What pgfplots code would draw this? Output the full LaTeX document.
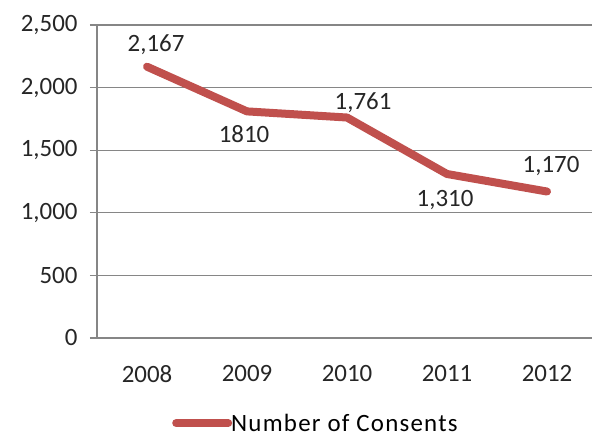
\documentclass[border=0pt]{standalone}
\usepackage{fontspec}
\setmainfont{Carlito}
\usepackage{pgfplots}
\pgfplotsset{compat=1.18}
\definecolor{linered}{RGB}{192,80,77}
\definecolor{gridgray}{RGB}{134,134,134}
\newcommand\cfont{\fontsize{25}{29}\selectfont}
\begin{document}
\begin{tikzpicture}
\useasboundingbox (0bp,0bp) rectangle (592bp,439bp);
\begin{axis}[
  at={(97bp,101bp)}, anchor=south west,
  scale only axis, width=495bp, height=313bp,
  xmin=-0.5, xmax=4.45, ymin=0, ymax=2500,
  axis x line*=bottom, axis y line*=left,
  axis line style={gridgray, line width=1.2bp, -},
  ytick={0,500,1000,1500,2000,2500},
  ymajorgrids, major grid style={gridgray, line width=1.2bp},
  xtick={0,1,2,3,4}, xticklabels={2008,2009,2010,2011,2012},
  x tick style={draw=none},
  extra x ticks={-0.5,0.5,1.5,2.5,3.5},
  extra x tick labels={},
  extra x tick style={tick style={draw=gridgray, line width=1.2bp}, major tick length=7bp, tick align=outside, xmajorgrids=false},
  y tick style={draw=gridgray, line width=1.2bp},
  major tick length=7bp, tick align=outside,
  /pgf/number format/assume math mode=true,
  /pgf/number format/1000 sep={,},
  tick label style={font=\cfont, text=black!85},
  xticklabel style={yshift=-17bp},
  yticklabel style={xshift=-9bp},
  legend style={at={(0.1515,-0.272)}, anchor=west, draw=none, font=\cfont\addfontfeature{LetterSpace=5}, inner sep=0pt,
    /tikz/every even column/.append style={column sep=0pt}},
  legend cell align=left,
  clip=false,
]
\addplot[linered, line width=8bp, line cap=round, line join=round,
  legend image code/.code={\draw[linered, line width=8bp, line cap=round] (0bp,0bp) -- (52bp,0bp);}]
  coordinates {(0,2167) (1,1810) (2,1761) (3,1310) (4,1170)};
\addlegendentry{\hspace{-3bp}Number of Consents}
\addplot[draw=none, mark=none, forget plot, nodes near coords, point meta=explicit symbolic,
  nodes near coords style={anchor=center, xshift=9bp, yshift=22bp, font=\cfont, text=black!85}]
  coordinates {(0,2167) [{2,167}]};
\addplot[draw=none, mark=none, forget plot, nodes near coords, point meta=explicit symbolic,
  nodes near coords style={anchor=center, xshift=-3bp, yshift=-23bp, font=\cfont, text=black!85}]
  coordinates {(1,1810) [{1810}]};
\addplot[draw=none, mark=none, forget plot, nodes near coords, point meta=explicit symbolic,
  nodes near coords style={anchor=center, xshift=16bp, yshift=15bp, font=\cfont, text=black!85}]
  coordinates {(2,1761) [{1,761}]};
\addplot[draw=none, mark=none, forget plot, nodes near coords, point meta=explicit symbolic,
  nodes near coords style={anchor=center, xshift=-2bp, yshift=-26bp, font=\cfont, text=black!85}]
  coordinates {(3,1310) [{1,310}]};
\addplot[draw=none, mark=none, forget plot, nodes near coords, point meta=explicit symbolic,
  nodes near coords style={anchor=center, xshift=4bp, yshift=26bp, font=\cfont, text=black!85}]
  coordinates {(4,1170) [{1,170}]};
\end{axis}
\end{tikzpicture}
\end{document}
